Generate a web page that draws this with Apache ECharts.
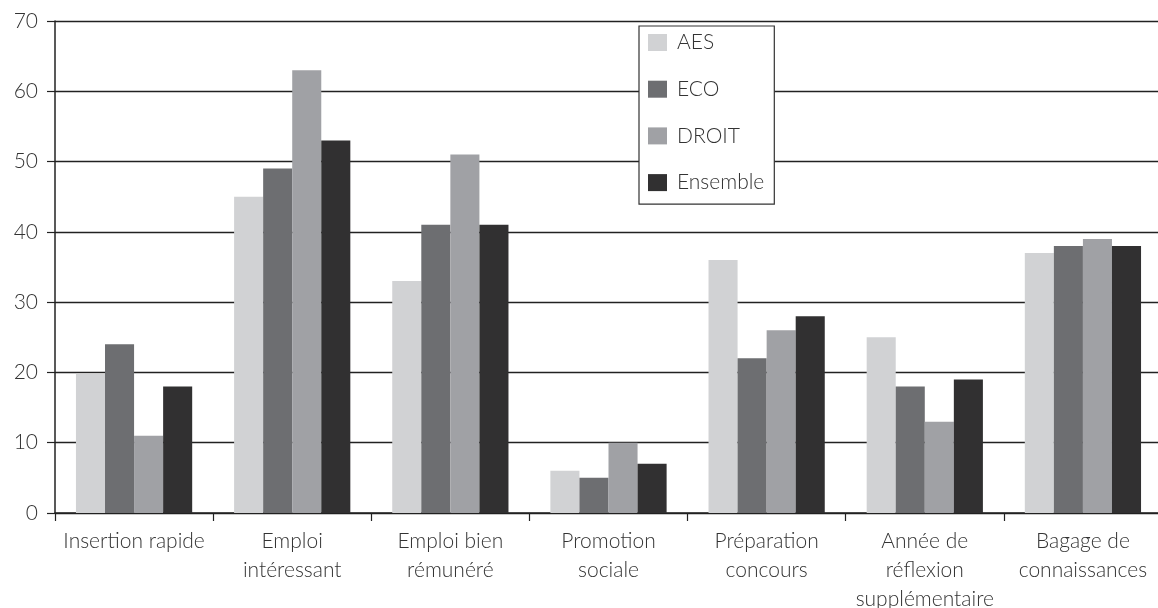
<!DOCTYPE html>
<html>
<head>
<meta charset="utf-8">
<script src="https://cdn.jsdelivr.net/npm/echarts@6/dist/echarts.min.js"></script>
<style>html,body{margin:0;padding:0;background:#fff}#c{width:1158px;height:608px}</style>
</head>
<body>
<div id="c"></div>
<script>
var categories = ['Insertion rapide', 'Emploi\nintéressant', 'Emploi bien\nrémunéré', 'Promotion\nsociale', 'Préparation\nconcours', 'Année de\nréflexion\nsupplémentaire', 'Bagage de\nconnaissances'];
var aes = [19.8, 45, 33, 6, 36, 25, 37];
var eco = [24, 49, 41, 5, 22, 18, 38];
var droit = [11, 63, 51, 10, 26, 13, 39];
var ensemble = [18, 53, 41, 7, 28, 19, 38];
var seriesNames = ['AES', 'ECO', 'DROIT', 'Ensemble'];
var colors = ['#d1d2d4', '#6d6e71', '#a0a1a5', '#313031'];
var FONT = 'Lato';
var chart = echarts.init(document.getElementById('c'), null, {renderer: 'canvas'});
var dataSets = [aes, eco, droit, ensemble];
chart.setOption({
  animation: false,
  color: colors,
  textStyle: {fontFamily: FONT},
  grid: {left: 55, top: 21, width: 1107, height: 492, outerBoundsMode: 'none', containLabel: false},
  legend: {
    orient: 'vertical', left: 639, top: 26,
    data: seriesNames,
    icon: 'rect', itemWidth: 19, itemHeight: 17, itemGap: 25.7,
    borderColor: '#333', borderWidth: 1.2,
    padding: [6, 10, 11, 9],
    backgroundColor: '#fff',
    textStyle: {fontFamily: FONT, fontSize: 21, fontWeight: 300, color: '#333', padding: [0, 0, 0, 5]}
  },
  xAxis: {
    type: 'category', data: categories,
    axisLine: {show: true, lineStyle: {color: '#222', width: 1.5}},
    axisTick: {show: true, length: 8, lineStyle: {color: '#222', width: 1.2}},
    axisLabel: {interval: 0, margin: 14, fontFamily: FONT, fontSize: 21, fontWeight: 300, color: '#333', lineHeight: 29}
  },
  yAxis: {
    type: 'value', min: 0, max: 70, interval: 10,
    axisLine: {show: true, lineStyle: {color: '#222', width: 1.5}},
    axisTick: {show: true, length: 8, lineStyle: {color: '#222', width: 1.2}},
    axisLabel: {margin: 17, fontFamily: FONT, fontSize: 21, fontWeight: 300, color: '#333'},
    splitLine: {lineStyle: {color: '#222', width: 1.3}}
  },
  series: seriesNames.map(function (n, i) {
    return {name: n, type: 'bar', data: dataSets[i], barGap: '0%', barCategoryGap: '26.5%', z: 3};
  })
});
</script>
</body>
</html>
